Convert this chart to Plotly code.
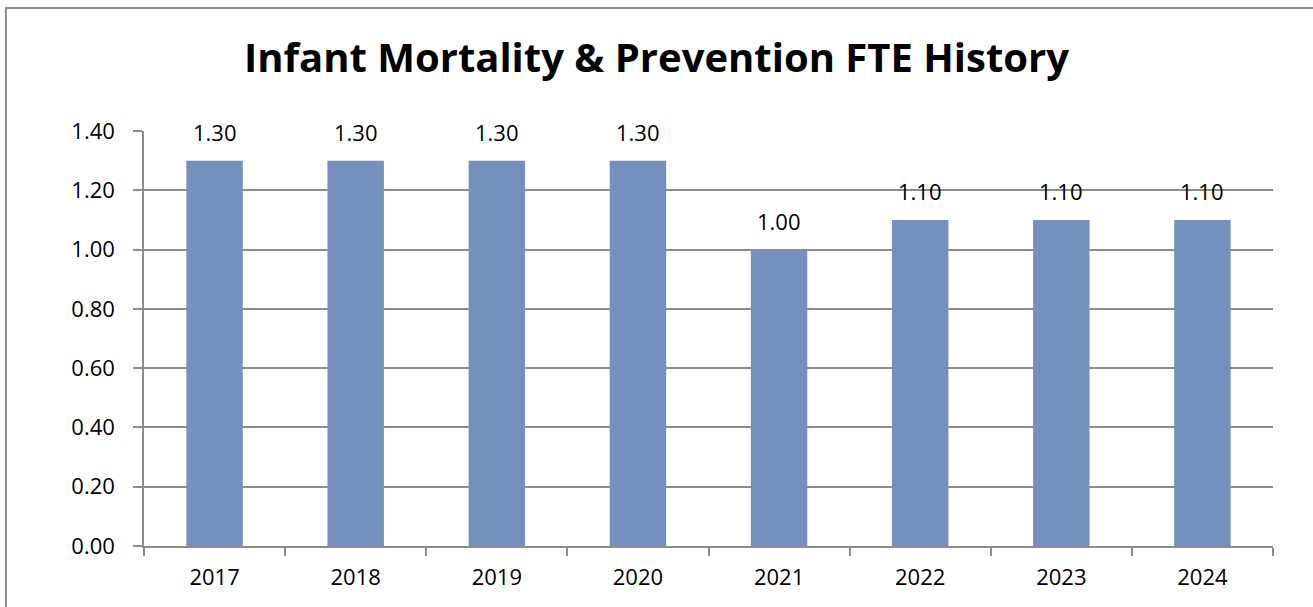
import plotly.graph_objects as go

years = ['2017', '2018', '2019', '2020', '2021', '2022', '2023', '2024']
fte = [1.30, 1.30, 1.30, 1.30, 1.00, 1.10, 1.10, 1.10]
y_ticks = [0.0, 0.2, 0.4, 0.6, 0.8, 1.0, 1.2, 1.4]

FONT = 'Open Sans'
GRID = '#8c8c8c'

fig = go.Figure()

fig.add_trace(go.Bar(x=years, y=fte,
                     width=0.4,
                     marker=dict(color='#7590bd', line=dict(width=0)),
                     showlegend=False,
                     hoverinfo='x+y'
                     )
              )

# value labels above the bars (category axis -> position by index)
for i, v in enumerate(fte):
    fig.add_annotation(x=i, y=v, text='{:.2f}'.format(v),
                       showarrow=False, yanchor='bottom', yshift=12,
                       font=dict(family=FONT, size=22, color='black'))

fig.update_layout(
    width=1313, height=607,
    margin=dict(l=144, r=40, t=131, b=61),
    paper_bgcolor='white',
    plot_bgcolor='white',
    title=dict(text='<b>Infant Mortality & Prevention FTE History</b>',
               font=dict(family=FONT, size=40, color='black'),
               x=0.5, xanchor='center', y=0.905, yanchor='middle'),
    bargap=0.6,
)

fig.update_yaxes(range=[0, 1.4], tickvals=y_ticks,
                 ticktext=['{:.2f}'.format(v) for v in y_ticks],
                 showgrid=True, gridcolor=GRID, gridwidth=1.5,
                 showline=True, linecolor=GRID, linewidth=1.5,
                 ticks='outside', ticklen=9, tickcolor=GRID, tickwidth=1.5,
                 ticklabelstandoff=14,
                 tickfont=dict(family=FONT, size=22, color='black'),
                 zeroline=False)

fig.update_xaxes(type='category', range=[-0.5, len(years) - 0.5],
                 showline=True, linecolor=GRID, linewidth=1.5,
                 ticks='outside', tickson='boundaries', ticklen=8,
                 tickcolor=GRID, tickwidth=1.5, tickangle=0,
                 ticklabelstandoff=11,
                 tickfont=dict(family=FONT, size=22, color='black'),
                 showgrid=False)

# outer chart border (left and top, rest falls outside the window)
fig.add_shape(type='rect', xref='paper', yref='paper',
              x0=-0.1223, x1=1.2, y0=-0.3, y1=1.2964,
              line=dict(color='#8c8c8c', width=2), layer='below')

fig.write_html("out.html", config={'displayModeBar': False},
               post_script="document.body.style.margin='0';")
